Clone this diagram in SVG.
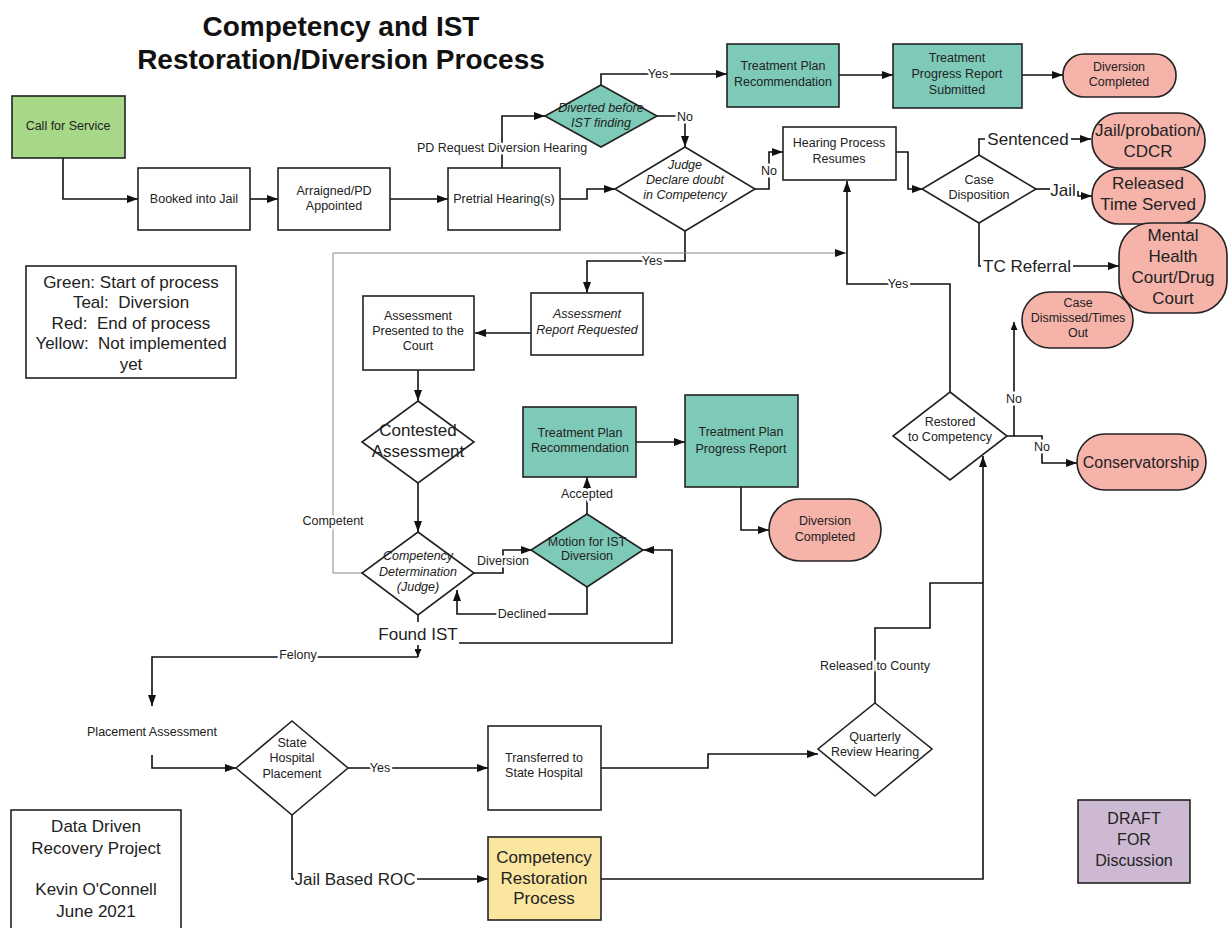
<svg xmlns="http://www.w3.org/2000/svg" width="1232" height="928" viewBox="0 0 1232 928">
<defs>
<marker id="ah" markerUnits="userSpaceOnUse" markerWidth="11" markerHeight="8" refX="11" refY="4" orient="auto"><path d="M0,0 L11,4 L0,8 z" fill="#111"/></marker>
<marker id="ahs" markerUnits="userSpaceOnUse" markerWidth="8" markerHeight="7" refX="8" refY="3.5" orient="auto"><path d="M0,0 L8,3.5 L0,7 z" fill="#111"/></marker>
<style>
.b{fill:#fff;stroke:#222;stroke-width:1.6}
.teal{fill:#7ecab8;stroke:#222;stroke-width:1.6}
.red{fill:#f6b3aa;stroke:#222;stroke-width:1.6}
.green{fill:#a7d888;stroke:#222;stroke-width:1.6}
.yel{fill:#fbe6a0;stroke:#222;stroke-width:1.6}
.pur{fill:#cdb9d2;stroke:#222;stroke-width:1.6}
.c{fill:none;stroke:#111;stroke-width:1.6}
.g{fill:none;stroke:#888;stroke-width:1}
text{font-family:"Liberation Sans",Arial,sans-serif;fill:#222;text-anchor:middle}
.s{font-size:12.5px}
.i{font-size:12.5px;font-style:italic}
.L{font-size:17px}
.M{font-size:16px}
.h{paint-order:stroke;stroke:#fff;stroke-width:5px;stroke-linejoin:round}
.title{font-size:28px;font-weight:bold;fill:#111}
</style>
</defs>

<text class="title" x="341" y="36">Competency and IST</text>
<text class="title" x="341" y="69">Restoration/Diversion Process</text>

<g id="connectors">
<path class="c" d="M63,158 V199 H138" marker-end="url(#ah)"/>
<path class="c" d="M250,199 H278" marker-end="url(#ah)"/>
<path class="c" d="M390,199 H448" marker-end="url(#ah)"/>
<path class="c" d="M502,168 V116 H545" marker-end="url(#ah)"/>
<path class="c" d="M601,86 V74 H727" marker-end="url(#ah)"/>
<path class="c" d="M657,116 H685 V147" marker-end="url(#ah)"/>
<path class="c" d="M560,199 H587 V189 H615" marker-end="url(#ah)"/>
<path class="c" d="M755,189 H769 V152 H783" marker-end="url(#ah)"/>
<path class="c" d="M896,152 H908 V189 H923" marker-end="url(#ah)"/>
<path class="c" d="M979,155 V139 H985"/>
<path class="c" d="M1071,139 H1091" marker-end="url(#ah)"/>
<path class="c" d="M1036,189 H1050"/>
<path class="c" d="M1078,191 V196 H1092" marker-end="url(#ah)"/>
<path class="c" d="M979,223 V266 H981"/>
<path class="c" d="M1073,266 H1119" marker-end="url(#ah)"/>
<path class="c" d="M839,75 H893" marker-end="url(#ah)"/>
<path class="c" d="M1022,75 H1063" marker-end="url(#ah)"/>
<path class="c" d="M685,231 V261 H587 V293" marker-end="url(#ah)"/>
<path class="c" d="M531,333 H475" marker-end="url(#ah)"/>
<path class="c" d="M418,370 V401" marker-end="url(#ah)"/>
<path class="c" d="M418,483 V532" marker-end="url(#ah)"/>
<path class="c" d="M474,573 H503 V550 H532" marker-end="url(#ah)"/>
<path class="c" d="M587,514 V477" marker-end="url(#ah)"/>
<path class="c" d="M636,442 H685" marker-end="url(#ah)"/>
<path class="c" d="M741,487 V530 H769" marker-end="url(#ah)"/>
<path class="c" d="M587,587 V614 H457 V590" marker-end="url(#ah)"/>
<path class="c" d="M418,615 V622"/>
<path class="c" d="M459,643 H672 V550 H643" marker-end="url(#ah)"/>
<path class="c" d="M418,645 V657" marker-end="url(#ahs)"/>
<path class="c" d="M418,657 H152 V706" marker-end="url(#ah)"/>
<path class="c" d="M152,755 V768 H236" marker-end="url(#ah)"/>
<path class="c" d="M348,768 H488" marker-end="url(#ah)"/>
<path class="c" d="M601,768 H708 V754 H818" marker-end="url(#ah)"/>
<path class="c" d="M875,703 V628 H930 V583 H983"/>
<path class="c" d="M292,815 V879 H294"/>
<path class="c" d="M417,879 H488" marker-end="url(#ah)"/>
<path class="c" d="M601,879 H983 V456" marker-end="url(#ah)"/>
<path class="c" d="M950,392 V284 H847 V181" marker-end="url(#ah)"/>
<path class="g" d="M363,573 H333 V253 H846" marker-end="url(#ah)"/>
<path class="c" d="M1006,436 H1014 V322" marker-end="url(#ahs)"/>
<path class="c" d="M1014,436 H1042 V463 H1077" marker-end="url(#ah)"/>

<text class="s h" x="502" y="152">PD Request Diversion Hearing</text>
<text class="s h" x="658" y="78">Yes</text>
<text class="s h" x="685" y="121">No</text>
<text class="s h" x="769" y="175">No</text>
<text class="L" x="1028" y="145">Sentenced</text>
<text class="L" x="1063" y="196">Jail</text>
<text class="L" x="1027" y="272">TC Referral</text>
<text class="s h" x="652" y="265">Yes</text>
<text class="s h" x="503" y="565">Diversion</text>
<text class="s h" x="587" y="498">Accepted</text>
<text class="s h" x="522" y="618">Declined</text>
<text class="s h" x="298" y="659">Felony</text>
<text class="s h" x="380" y="772">Yes</text>
<text class="s h" x="875" y="670">Released to County</text>
<text class="L" x="355" y="885">Jail Based ROC</text>
<text class="s h" x="898" y="288">Yes</text>
<text class="s h" x="333" y="525">Competent</text>
<text class="s h" x="1014" y="403">No</text>
<text class="s h" x="1042" y="451">No</text>
</g>

<g id="call-for-service"><rect class="green" x="12" y="96" width="113" height="62"/><text class="s" x="68" y="130">Call for Service</text></g>
<g id="booked"><rect class="b" x="138" y="168" width="112" height="62"/><text class="s" x="194" y="203">Booked into Jail</text></g>
<g id="arraigned"><rect class="b" x="278" y="168" width="112" height="62"/><text class="s" x="334" y="195">Arraigned/PD</text><text class="s" x="334" y="210">Appointed</text></g>
<g id="pretrial"><rect class="b" x="448" y="168" width="112" height="62"/><text class="s" x="504" y="203">Pretrial Hearing(s)</text></g>
<g id="diverted"><polygon class="teal" points="601,85 657,116 601,147 545,116"/><text class="i" x="601" y="112">Diverted before</text><text class="i" x="601" y="127">IST finding</text></g>
<g id="judge"><polygon class="b" points="685,147 755,189 685,231 615,189"/><text class="i" x="685" y="169">Judge</text><text class="i" x="685" y="184">Declare doubt</text><text class="i" x="685" y="199">in Competency</text></g>
<g id="hearing"><rect class="b" x="783" y="127" width="113" height="53"/><text class="s" x="839" y="147">Hearing Process</text><text class="s" x="839" y="163">Resumes</text></g>
<g id="case-disposition"><polygon class="b" points="979,155 1036,189 979,223 922,189"/><text class="s" x="979" y="184">Case</text><text class="s" x="979" y="199">Disposition</text></g>
<g id="jail-probation"><rect class="red" x="1092" y="113" width="113" height="55" rx="27"/><text class="L" x="1148" y="136">Jail/probation/</text><text class="L" x="1148" y="157">CDCR</text></g>
<g id="released"><rect class="red" x="1092" y="169" width="113" height="55" rx="27"/><text class="L" x="1148" y="189">Released</text><text class="L" x="1148" y="210">Time Served</text></g>
<g id="mental-health"><rect class="red" x="1119" y="223" width="108" height="90" rx="32"/><text class="L" x="1173" y="241">Mental</text><text class="L" x="1173" y="262">Health</text><text class="L" x="1173" y="283">Court/Drug</text><text class="L" x="1173" y="304">Court</text></g>
<g id="tpr-top"><rect class="teal" x="727" y="44" width="112" height="63"/><text class="s" x="783" y="70">Treatment Plan</text><text class="s" x="783" y="86">Recommendation</text></g>
<g id="tprs"><rect class="teal" x="893" y="44" width="129" height="64"/><text class="s" x="957" y="62">Treatment</text><text class="s" x="957" y="78">Progress Report</text><text class="s" x="957" y="94">Submitted</text></g>
<g id="diversion-completed-top"><rect class="red" x="1063" y="54" width="113" height="43" rx="21"/><text class="s" x="1119" y="71">Diversion</text><text class="s" x="1119" y="86">Completed</text></g>
<g id="legend"><rect class="b" x="26" y="266" width="210" height="112"/><text class="L" x="131" y="288">Green: Start of process</text><text class="L" x="131" y="308" xml:space="preserve">Teal:  Diversion</text><text class="L" x="131" y="329" xml:space="preserve">Red:  End of process</text><text class="L" x="131" y="349" xml:space="preserve">Yellow:  Not implemented</text><text class="L" x="131" y="370">yet</text></g>
<g id="assessment-report"><rect class="b" x="531" y="293" width="112" height="62"/><text class="i" x="587" y="318">Assessment</text><text class="i" x="587" y="334">Report Requested</text></g>
<g id="assessment-presented"><rect class="b" x="363" y="296" width="111" height="74"/><text class="s" x="418" y="320">Assessment</text><text class="s" x="418" y="335">Presented to the</text><text class="s" x="418" y="350">Court</text></g>
<g id="contested"><polygon class="b" points="418,401 474,442 418,483 362,442"/><text class="L" x="418" y="436">Contested</text><text class="L" x="418" y="457">Assessment</text></g>
<g id="competency-determination"><polygon class="b" points="418,532 474,573 418,615 362,573"/><text class="i" x="418" y="560">Competency</text><text class="i" x="418" y="576">Determination</text><text class="i" x="418" y="591">(Judge)</text></g>
<g id="motion"><polygon class="teal" points="587,514 643,550 587,587 531,550"/><text class="s" x="587" y="546">Motion for IST</text><text class="s" x="587" y="560">Diversion</text></g>
<g id="tpr-mid"><rect class="teal" x="523" y="407" width="113" height="70"/><text class="s" x="580" y="437">Treatment Plan</text><text class="s" x="580" y="452">Recommendation</text></g>
<g id="tppr"><rect class="teal" x="685" y="395" width="113" height="92"/><text class="s" x="741" y="436">Treatment Plan</text><text class="s" x="741" y="453">Progress Report</text></g>
<g id="diversion-completed-mid"><rect class="red" x="769" y="499" width="112" height="62" rx="31"/><text class="s" x="825" y="525">Diversion</text><text class="s" x="825" y="541">Completed</text></g>
<g id="found-ist"><text class="L" x="418" y="640">Found IST</text></g>
<g id="placement-assessment"><text class="s" x="152" y="736">Placement Assessment</text></g>
<g id="state-hospital-placement"><polygon class="b" points="292,721 348,768 292,815 236,768"/><text class="s" x="292" y="747">State</text><text class="s" x="292" y="762">Hospital</text><text class="s" x="292" y="778">Placement</text></g>
<g id="transferred"><rect class="b" x="488" y="726" width="113" height="84"/><text class="s" x="544" y="762">Transferred to</text><text class="s" x="544" y="777">State Hospital</text></g>
<g id="quarterly"><polygon class="b" points="875,703 932,749 875,796 818,749"/><text class="s" x="875" y="741">Quarterly</text><text class="s" x="875" y="756">Review Hearing</text></g>
<g id="competency-restoration"><rect class="yel" x="488" y="837" width="113" height="83"/><text class="L" x="544" y="863">Competency</text><text class="L" x="544" y="884">Restoration</text><text class="L" x="544" y="904">Process</text></g>
<g id="credits"><rect class="b" x="11" y="810" width="170" height="125"/><text class="L" x="96" y="832">Data Driven</text><text class="L" x="96" y="854">Recovery Project</text><text class="L" x="96" y="895">Kevin O'Connell</text><text class="L" x="96" y="917">June 2021</text></g>
<g id="draft"><rect class="pur" x="1078" y="800" width="112" height="83"/><text class="M" x="1134" y="824">DRAFT</text><text class="M" x="1134" y="845">FOR</text><text class="M" x="1134" y="866">Discussion</text></g>
<g id="restored"><polygon class="b" points="950,392 1007,436 950,480 893,436"/><text class="s" x="950" y="426">Restored</text><text class="s" x="950" y="441">to Competency</text></g>
<g id="case-dismissed"><rect class="red" x="1022" y="292" width="111" height="56" rx="28"/><text class="s" x="1078" y="307">Case</text><text class="s" x="1078" y="322">Dismissed/Times</text><text class="s" x="1078" y="337">Out</text></g>
<g id="conservatorship"><rect class="red" x="1077" y="434" width="129" height="56" rx="28"/><text class="M" x="1141" y="468">Conservatorship</text></g>
</svg>
